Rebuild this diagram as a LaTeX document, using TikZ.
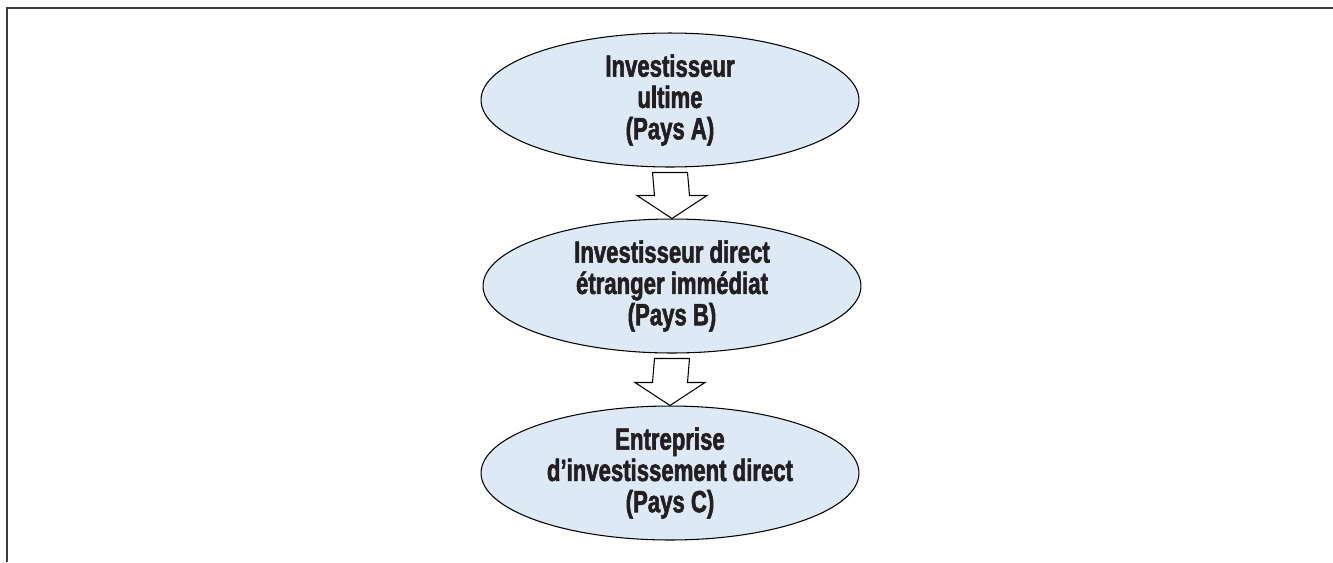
\documentclass[tikz,border=0pt]{standalone}
\usepackage{fontspec}
\setmainfont{Liberation Sans}[FakeStretch=0.72,
  BoldFeatures={FakeStretch=0.72, FakeBold=1.8}]
\usepackage{tikz}
\usetikzlibrary{shapes.geometric, positioning, calc}
\definecolor{paleblue}{RGB}{221,234,246}
\definecolor{inkgray}{RGB}{35,31,32}
\definecolor{framegray}{RGB}{60,60,60}

\tikzset{
  bulle/.style={ellipse, draw=black, line width=0.6pt, fill=paleblue,
                minimum width=7.56cm, minimum height=2.68cm, inner sep=0pt,
                align=center, text=inkgray,
                font=\fontsize{17.5}{17.8}\selectfont\bfseries},
  fleche/.style={draw=black, line width=0.6pt, fill=white}
}

\begin{document}
\begin{tikzpicture}[x=0.02cm, y=-0.02cm]
  \useasboundingbox (0,0) rectangle (1333,562);
  % cadre
  \draw[framegray, line width=1.1pt] (7,562) -- (7,8) -- (1333,8);

  \node[bulle] (ultime) at (670,100) {Investisseur\\ultime\\(Pays A)};
  \node[bulle] (immediat) at (672,286) {Investisseur direct\\étranger immédiat\\(Pays B)};
  \node[bulle] (entreprise) at (670,473) {Entreprise\\d’investissement direct\\(Pays C)};

  % fleches
  \foreach \haut/\bas in {ultime/immediat, immediat/entreprise}{
    \draw[fleche] ($(\haut.south)+(-17.5,5)$) -- ($(\bas.north)+(-17.5,-23)$)
      -- ++(-17.5,0) -- (\bas.north) -- ($(\bas.north)+(35,-23)$)
      -- ++(-17.5,0) -- ($(\haut.south)+(17.5,5)$) -- cycle;
  }
\end{tikzpicture}
\end{document}
